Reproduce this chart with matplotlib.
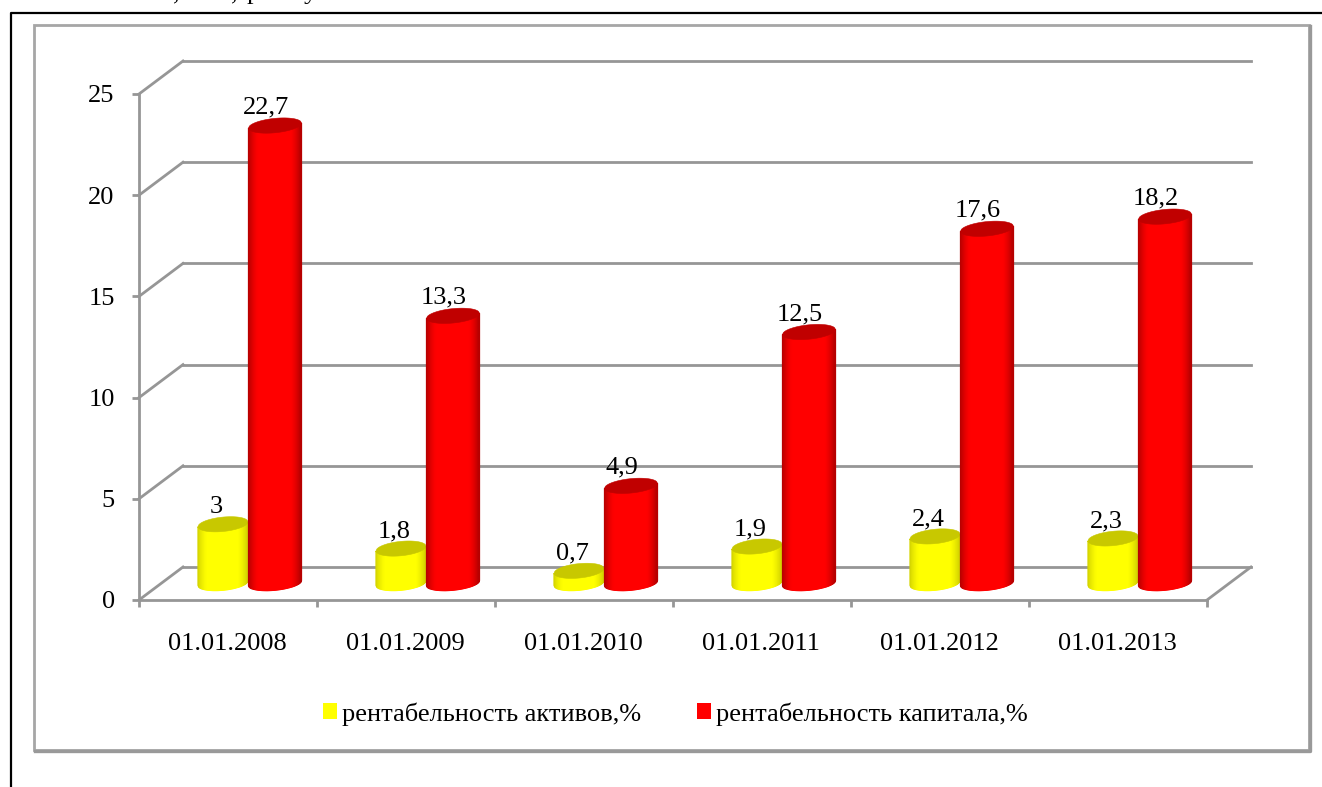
import numpy as np
import matplotlib
matplotlib.use("Agg")
import matplotlib.pyplot as plt
from matplotlib.patches import Rectangle, Patch, Polygon
from matplotlib.lines import Line2D
from matplotlib.transforms import Affine2D, IdentityTransform

categories = ["01.01.2008", "01.01.2009", "01.01.2010", "01.01.2011", "01.01.2012", "01.01.2013"]
assets_roa = [3, 1.8, 0.7, 1.9, 2.4, 2.3]
equity_roe = [22.7, 13.3, 4.9, 12.5, 17.6, 18.2]
assets_labels = ["3", "1,8", "0,7", "1,9", "2,4", "2,3"]
equity_labels = ["22,7", "13,3", "4,9", "12,5", "17,6", "18,2"]
series_names = ["рентабельность активов,%", "рентабельность капитала,%"]
y_ticks = [0, 5, 10, 15, 20, 25]
page_fragments = [(",", 173), (",", 231), ("р", 247), ("у", 304)]

W, H = 1322, 787
FS = 19
plt.rcParams["font.family"] = ["Liberation Serif", "DejaVu Serif"]
fig = plt.figure(figsize=(W / 100, H / 100), dpi=100, facecolor="white")

def box(px0, py0, px1, py1):
    return [px0 / W, 1 - py1 / H, (px1 - px0) / W, (py1 - py0) / H]

ax = fig.add_axes(box(139, 94, 1207, 600))
ax.set_xlim(0, 6)
ax.set_ylim(0, 25)
ax.patch.set_alpha(0)
for s in ax.spines.values():
    s.set_visible(False)
GRID = "#969696"
DX, DY = 44, 33
back = ax.transData + Affine2D().translate(DX, DY)

# page fragments: document border, cropped text above it, chart frame
fig.add_artist(Line2D([11 / W, 11 / W, 1], [0, 1 - 13 / H, 1 - 13 / H], color="black", lw=1.6))
fig.add_artist(Rectangle((34 / W, 1 - 750 / H), 1275 / W, 725 / H, fill=False, ec="#a6a6a6", lw=2.0))
fig.add_artist(Line2D([35 / W, 1310 / W, 1310 / W], [1 - 751 / H, 1 - 751 / H, 1 - 26 / H], color="#999999", lw=2.4))
for ch, px in page_fragments:
    fig.text(px / W, 1 + 1 / H, ch, fontsize=FS, color="black", va="baseline", ha="left")

# walls and floor
for v in y_ticks:
    ax.plot([0, 6], [v, v], color=GRID, lw=2, transform=back, clip_on=False, zorder=1)
    x0, y0 = ax.transData.transform((0, v))
    ax.add_line(Line2D([x0, x0 + DX], [y0, y0 + DY], color=GRID, lw=2, transform=IdentityTransform(),
                       zorder=1, clip_on=False))
x0, y0 = ax.transData.transform((6, 0))
ax.add_line(Line2D([x0, x0 + DX], [y0, y0 + DY], color=GRID, lw=2, transform=IdentityTransform(),
                   zorder=1, clip_on=False))
ax.plot([0, 0], [0, 25], color=GRID, lw=2, clip_on=False, zorder=1)
ax.plot([0, 6], [0, 0], color=GRID, lw=2, clip_on=False, zorder=1)

ax.set_xticks(np.arange(7))
ax.set_xticklabels([])
ax.set_yticks(y_ticks)
ax.set_yticklabels([str(v) for v in y_ticks], fontsize=FS)
ax.tick_params(axis="y", length=5, width=2, color=GRID, pad=12.5)
ax.tick_params(axis="x", length=5, width=2, color=GRID)
for i, c in enumerate(categories):
    ax.annotate(c, (i + 0.5, 0), xytext=(-1, -50), xycoords="data", textcoords="offset pixels",
                ha="center", va="baseline", fontsize=FS, annotation_clip=False)

def mix(a, b, t):
    return tuple(a[i] * (1 - t) + b[i] * t for i in range(3))

def cylinder(xd, value, half_w, base, edge, cap, z):
    b = 7.2
    shear = 0.095
    cx, cy0 = ax.transData.transform((xd, 0))
    _, cy1 = ax.transData.transform((xd, value))
    cy0 += 17
    cy1 += 15
    n = 60
    s = np.linspace(-1, 1, n + 1)
    arc = b * np.sqrt(1 - s ** 2)
    xs = cx + half_w * s
    sh = shear * half_w * s
    for i in range(n):
        mid = abs((s[i] + s[i + 1]) / 2)
        t = np.clip((mid - 0.6) / 0.4, 0, 1) ** 1.5
        col = mix(base, edge, t)
        pts = [(xs[i], cy0 + sh[i] - arc[i]), (xs[i + 1], cy0 + sh[i + 1] - arc[i + 1]),
               (xs[i + 1], cy1 + sh[i + 1] - arc[i + 1]), (xs[i], cy1 + sh[i] - arc[i])]
        ax.add_patch(Polygon(pts, closed=True, fc=col, ec=col, lw=0.9,
                             transform=IdentityTransform(), zorder=z, clip_on=False))
    top = list(zip(xs, cy1 + sh + arc)) + list(zip(xs[::-1], (cy1 + sh - arc)[::-1]))
    ax.add_patch(Polygon(top, closed=True, fc=cap, ec=cap, lw=0.4,
                         transform=IdentityTransform(), zorder=z + 0.1, clip_on=False))

YEL = (1, 1, 0)
RED = (1, 0, 0)
for i in range(len(categories)):
    x_front = i + 0.5
    x_y = x_front + (223 - 228) / 178
    x_r = x_front + (275 - 228) / 178
    cylinder(x_y, assets_roa[i], 25, YEL, (0.82, 0.82, 0.0), "#c8c800", 3 + i)
    cylinder(x_r, equity_roe[i], 26.5, RED, (0.7, 0.0, 0.0), "#c00000", 3.5 + i)
    ax.annotate(assets_labels[i], (x_y, assets_roa[i]), xytext=(-7, 26), textcoords="offset pixels",
                ha="center", va="baseline", fontsize=FS, annotation_clip=False, zorder=30)
    ax.annotate(equity_labels[i], (x_r, equity_roe[i]), xytext=(-9, 27), textcoords="offset pixels",
                ha="center", va="baseline", fontsize=FS, annotation_clip=False, zorder=30)

handles = [Patch(fc="#ffff00", ec="none"), Patch(fc="#ff0000", ec="none")]
fig.legend(handles, series_names, loc="center", bbox_to_anchor=(675.5 / W, 1 - 714 / H), ncol=2,
           frameon=False, fontsize=FS, handlelength=0.53, handleheight=0.55, handletextpad=0.19,
           columnspacing=2.12, borderpad=0, borderaxespad=0)

fig.savefig("out.png", dpi=100, facecolor="white")
